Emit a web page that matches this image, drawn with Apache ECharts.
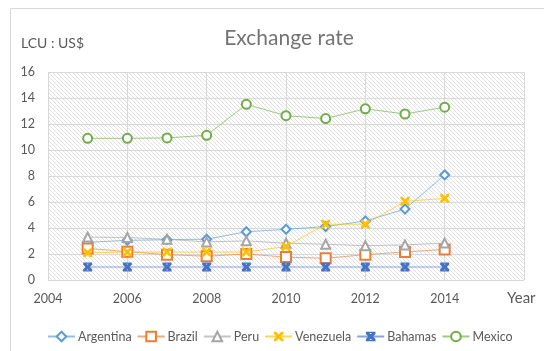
<!DOCTYPE html>
<html>
<head>
<meta charset="utf-8">
<style>
  html, body { margin: 0; padding: 0; background: #ffffff; }
  #chart { width: 544px; height: 351px; }
</style>
<script src="https://cdn.jsdelivr.net/npm/echarts@6/dist/echarts.min.js"></script>
</head>
<body>
<div id="chart"></div>
<script>
// Official exchange rate, local currency units per US$
const years = [2005, 2006, 2007, 2008, 2009, 2010, 2011, 2012, 2013, 2014];
const argentina = [2.90, 3.05, 3.10, 3.14, 3.71, 3.90, 4.11, 4.54, 5.46, 8.08];
const brazil    = [2.43, 2.18, 1.95, 1.83, 2.00, 1.76, 1.67, 1.95, 2.16, 2.35];
const peru      = [3.30, 3.27, 3.13, 2.93, 3.01, 2.83, 2.75, 2.64, 2.70, 2.84];
const venezuela = [2.09, 2.15, 2.15, 2.15, 2.15, 2.58, 4.29, 4.29, 6.05, 6.28];
const bahamas   = [1, 1, 1, 1, 1, 1, 1, 1, 1, 1];
const mexico    = [10.90, 10.90, 10.93, 11.13, 13.51, 12.64, 12.42, 13.17, 12.77, 13.29];
const yTicks = [0, 2, 4, 6, 8, 10, 12, 14, 16];
const xTicks = [2004, 2006, 2008, 2010, 2012, 2014, 2016];

// diagonal hatch fill for the plot area
function hatch() {
  const c = document.createElement('canvas');
  c.width = 4; c.height = 4;
  const g = c.getContext('2d');
  g.fillStyle = '#ffffff';
  g.fillRect(0, 0, 4, 4);
  g.strokeStyle = '#dcdcdc';
  g.lineWidth = 0.9;
  g.beginPath();
  g.moveTo(-1, -1); g.lineTo(5, 5);
  g.moveTo(-1, 3); g.lineTo(1, 5);
  g.moveTo(3, -1); g.lineTo(5, 1);
  g.stroke();
  return c;
}

const xMark = 'path://M0,0L2.2,0L5,2.8L7.8,0L10,0L10,2.2L7.2,5L10,7.8L10,10L7.8,10L5,7.2L2.2,10L0,10L0,7.8L2.8,5L0,2.2Z';
const starMark = 'path://M0,0L2.4,0L5,2.6L7.6,0L10,0L10,2.4L7.4,5L10,7.6L10,10L7.6,10L5,7.4L2.4,10L0,10L0,7.6L2.6,5L0,2.4Z M0,0L10,0L10,1.4L0,1.4Z M0,8.6L10,8.6L10,10L0,10Z';

function pairs(vals) { return years.map((y, i) => [y, vals[i]]); }

function mk(name, vals, color, symbol, size, hollow) {
  return {
    name: name,
    type: 'line',
    data: pairs(vals),
    symbol: symbol,
    symbolSize: size,
    showAllSymbol: true,
    lineStyle: { color: color, width: 1, opacity: 0.65 },
    itemStyle: hollow
      ? { color: '#ffffff', borderColor: color, borderWidth: 2 }
      : { color: color, borderWidth: 0 },
    emphasis: { disabled: true },
    animation: false
  };
}

const chart = echarts.init(document.getElementById('chart'));
const textColor = '#595959';
chart.setOption({
  backgroundColor: '#ffffff',
  animation: false,
  title: {
    text: 'Exchange rate',
    left: 284, top: 23,
    textAlign: 'center',
    textStyle: { fontFamily: 'Lato', fontSize: 21, fontWeight: 'normal', color: '#737373' }
  },
  graphic: [
    { type: 'polyline', shape: { points: [[10.5, 351], [10.5, 8.5], [544, 8.5]] },
      style: { stroke: '#d9d9d9', lineWidth: 1, fill: null }, silent: true },
    { type: 'text', left: 21, top: 36,
      style: { text: 'LCU : US$', fontFamily: 'Lato', fontSize: 14, fill: textColor } },
    { type: 'text', left: 507, top: 291,
      style: { text: 'Year', fontFamily: 'Lato', fontSize: 15, fill: textColor } }
  ],
  grid: {
    left: 48, right: 20, top: 72, bottom: 71,
    show: true,
    backgroundColor: { image: hatch(), repeat: 'repeat' },
    borderWidth: 0
  },
  legend: {
    left: 42, top: 325,
    itemWidth: 27, itemHeight: 12, itemGap: 5,
    textStyle: { fontFamily: 'Lato', fontSize: 12.5, color: textColor, padding: [0, 0, 0, -2] },
    data: ['Argentina', 'Brazil', 'Peru', 'Venezuela', 'Bahamas', 'Mexico']
  },
  xAxis: {
    type: 'value',
    min: xTicks[0], max: xTicks[xTicks.length - 1], interval: 2,
    axisLine: { show: false },
    axisTick: { show: false },
    splitLine: { show: true, lineStyle: { color: '#d9d9d9', width: 1 } },
    axisLabel: {
      margin: 12, color: textColor, fontFamily: 'Lato', fontSize: 12.5,
      formatter: v => (v === 2016 ? '' : String(v))
    }
  },
  yAxis: {
    type: 'value',
    min: yTicks[0], max: yTicks[yTicks.length - 1], interval: 2,
    axisLine: { show: false },
    axisTick: { show: false },
    splitLine: { show: true, lineStyle: { color: '#d9d9d9', width: 1 } },
    axisLabel: { margin: 13, color: textColor, fontFamily: 'Lato', fontSize: 12.5 }
  },
  series: [
    mk('Argentina', argentina, '#5b9bd5', 'diamond', 9, true),
    mk('Brazil', brazil, '#ed7d31', 'rect', 10, true),
    mk('Peru', peru, '#a5a5a5', 'triangle', 9, true),
    mk('Venezuela', venezuela, '#ffc000', xMark, 9, false),
    mk('Bahamas', bahamas, '#4472c4', starMark, 9, false),
    mk('Mexico', mexico, '#70ad47', 'circle', 9, true)
  ]
});
</script>
</body>
</html>
